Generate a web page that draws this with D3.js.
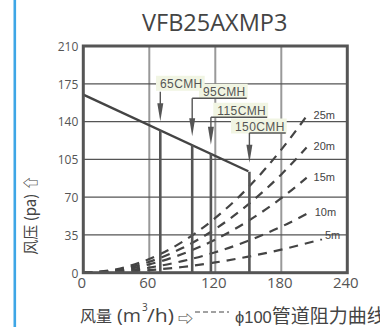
<!DOCTYPE html>
<html><head><meta charset="utf-8">
<script src="https://cdn.jsdelivr.net/npm/d3@7/dist/d3.min.js"></script>
<style>
html,body{margin:0;padding:0;background:#fff;overflow:hidden}
svg{display:block}
</style></head>
<body><svg id="c" width="380" height="327"></svg>
<script>
// ---- data ----
const title = "VFB25AXMP3";
const xTicks = [0, 60, 120, 180, 240];
const yTicks = [0, 35, 70, 105, 140, 175, 210];
// fan performance line (flow m3/h, pressure pa)
const fanFlow = [0, 150];
const fanPressure = [165, 94];
// operating points (drop lines) and their labels
const opFlow = [70, 99, 116, 151];
const opLabels = ["65CMH", "95CMH", "115CMH", "150CMH"];
// duct resistance curves (phi100 duct), flow vs pressure
const resNames = ["25m", "20m", "15m", "10m", "5m"];
const resFlow25 = [0, 30, 60, 90, 120, 150, 180, 203];
const resP25 = [0, 3.2, 12.7, 28.5, 50.7, 79, 114, 145];
const resFlow20 = [0, 30, 60, 90, 120, 150, 180, 203];
const resP20 = [0, 2.5, 10.1, 22.8, 40.5, 63.3, 91, 116];
const resFlow15 = [0, 30, 60, 90, 120, 150, 180, 203];
const resP15 = [0, 1.9, 7.7, 17.3, 30.7, 48, 69, 88];
const resFlow10 = [0, 30, 60, 90, 120, 150, 180, 204];
const resP10 = [0, 1.2, 4.7, 10.7, 18.9, 29.6, 42.6, 55];
const resFlow5 = [0, 30, 60, 90, 120, 150, 180, 217];
const resP5 = [0, 0.6, 2.4, 5.3, 9.5, 14.9, 21.4, 31];

// ---- layout ----
const svg = d3.select("#c");
const x = d3.scaleLinear().domain([0, 240]).range([83.3, 347.3]);
const y = d3.scaleLinear().domain([0, 210]).range([272.7, 46]);
const latin = "'Open Sans', 'Noto Sans', sans-serif";
const cjk = "'Noto Sans CJK SC', 'Noto Sans', sans-serif";

// blue page edge
svg.append("rect").attr("x", 13.5).attr("y", 0).attr("width", 2.6).attr("height", 327).attr("fill", "#3ea6e6");

// title
svg.append("text").attr("x", 214.7).attr("y", 31).attr("text-anchor", "middle")
  .attr("font-family", latin).attr("font-size", 23.5).attr("fill", "#444").text(title);

// grid
const g = svg.append("g");
g.selectAll(".vg").data(xTicks.slice(1, -1)).join("line")
  .attr("x1", d => x(d)).attr("x2", d => x(d)).attr("y1", y(210)).attr("y2", y(0))
  .attr("stroke", "#999").attr("stroke-width", 2);
g.selectAll(".hg").data(yTicks.slice(1, -1)).join("line")
  .attr("x1", x(0)).attr("x2", x(240)).attr("y1", d => y(d)).attr("y2", d => y(d))
  .attr("stroke", "#555").attr("stroke-width", 1.2);

// axes tick labels via d3 axes
const yAxis = svg.append("g").attr("transform", `translate(${x(0) - 2},0)`)
  .call(d3.axisLeft(y).tickValues(yTicks).tickSize(0).tickPadding(3));
yAxis.select(".domain").remove();
yAxis.selectAll("text").attr("font-family", latin).attr("font-size", 12).attr("fill", "#555").attr("dy", "0.36em");
const xAxis = svg.append("g").attr("transform", `translate(-2,${y(0) + 2})`)
  .call(d3.axisBottom(x).tickValues(xTicks).tickSize(0).tickPadding(3));
xAxis.select(".domain").remove();
xAxis.selectAll("text").attr("font-family", latin).attr("font-size", 15).attr("fill", "#555");

// resistance curves
const resSets = [
  [resFlow25, resP25], [resFlow20, resP20], [resFlow15, resP15], [resFlow10, resP10], [resFlow5, resP5]
];
const lineGen = d3.line().x(d => x(d[0])).y(d => y(d[1])).curve(d3.curveMonotoneX);
resSets.forEach(([f, p], i) => {
  const pts = f.map((v, j) => [v, p[j]]);
  svg.append("path").attr("d", lineGen(pts)).attr("fill", "none")
    .attr("stroke", "#444").attr("stroke-width", 2.2).attr("stroke-dasharray", "9,7");
  const last = pts[pts.length - 1];
  svg.append("text").attr("x", x(last[0]) + (i === 4 ? 3 : 7)).attr("y", y(last[1]) + (i === 4 ? 0 : 3))
    .attr("font-family", "'Liberation Sans', Arial, sans-serif").attr("font-size", 11).attr("fill", "#444")
    .text(resNames[i]);
});

// fan line
const fanPts = fanFlow.map((v, i) => [v, fanPressure[i]]);
svg.append("path").attr("d", d3.line().x(d => x(d[0])).y(d => y(d[1]))(fanPts))
  .attr("fill", "none").attr("stroke", "#444").attr("stroke-width", 2.4);
const fanAt = d3.scaleLinear().domain(fanFlow).range(fanPressure);

// drop lines
svg.selectAll(".drop").data(opFlow).join("line")
  .attr("x1", d => x(d)).attr("x2", d => x(d)).attr("y1", d => y(fanAt(d))).attr("y2", y(0))
  .attr("stroke", "#555").attr("stroke-width", 2.6);

// labels with leaders and arrows
const labelLevel = [175, 161.6, 144, 129.4];
const labelTextX = [160, 203, 217.3, 235];
const lab = svg.append("g");
opFlow.forEach((q, i) => {
  const ly = y(labelLevel[i]);
  const tx = labelTextX[i];
  const t = lab.append("text").attr("x", tx).attr("y", ly - 2.5)
    .attr("font-family", "'Liberation Sans', Arial, sans-serif").attr("font-size", 12)
    .attr("letter-spacing", 0.4).attr("fill", "#555").text(opLabels[i]);
  if (i === 0) t.attr("y", ly + 4);
  const bb = t.node().getBBox();
  lab.insert("rect", "text").attr("x", bb.x - 4).attr("y", bb.y - 1).attr("width", bb.width + 6).attr("height", bb.height + 1)
    .attr("fill", "#f1f5e3");
  let startY = ly;
  if (i > 0) {
    lab.append("line").attr("x1", x(q)).attr("x2", bb.x + bb.width + 1).attr("y1", ly).attr("y2", ly)
      .attr("stroke", "#555").attr("stroke-width", 1.3);
  } else {
    startY = bb.y + bb.height + 1;
  }
  const tipY = y(fanAt(q)) - 9;
  lab.append("line").attr("x1", x(q)).attr("x2", x(q)).attr("y1", startY).attr("y2", tipY - 10)
    .attr("stroke", "#555").attr("stroke-width", 1.4);
  lab.append("path").attr("d", `M${x(q) - 3},${tipY - 18} L${x(q) + 3},${tipY - 18} L${x(q)},${tipY} Z`)
    .attr("fill", "#555");
});

// frame
svg.append("rect").attr("x", x(0)).attr("y", y(210)).attr("width", x(240) - x(0)).attr("height", y(0) - y(210))
  .attr("fill", "none").attr("stroke", "#555").attr("stroke-width", 3);

// y axis title
svg.append("text").attr("transform", "translate(36,215) rotate(-90)").attr("text-anchor", "middle")
  .attr("font-family", cjk).attr("font-size", 15).attr("fill", "#444").text("风压 (pa) ⇧");

// x axis title
svg.append("text").attr("x", 80).attr("y", 322).attr("font-family", cjk).attr("font-size", 16).attr("fill", "#444").text("风量");
svg.append("text").attr("x", 117).attr("y", 322).attr("font-family", latin).attr("font-size", 18).attr("fill", "#444")
  .attr("textLength", 24).attr("lengthAdjust", "spacingAndGlyphs").text("(m");
svg.append("text").attr("x", 142).attr("y", 311).attr("font-family", latin).attr("font-size", 10).attr("fill", "#444").text("3");
svg.append("text").attr("x", 147).attr("y", 322).attr("font-family", latin).attr("font-size", 18).attr("fill", "#444")
  .attr("textLength", 27).attr("lengthAdjust", "spacingAndGlyphs").text("/h)");
svg.append("text").attr("x", 178).attr("y", 324).attr("font-family", cjk).attr("font-size", 15).attr("fill", "#444").text("⇨");
svg.append("line").attr("x1", 195).attr("x2", 229).attr("y1", 312).attr("y2", 312)
  .attr("stroke", "#444").attr("stroke-width", 1).attr("stroke-dasharray", "5,3");
const leg = svg.append("text").attr("x", 235).attr("y", 323).attr("fill", "#444");
leg.append("tspan").attr("font-family", "'Liberation Sans', 'DejaVu Sans', sans-serif").attr("font-size", 16.5).text("ϕ100");
leg.append("tspan").attr("font-family", cjk).attr("font-size", 19).text("管道阻力曲线");
</script></body></html>
